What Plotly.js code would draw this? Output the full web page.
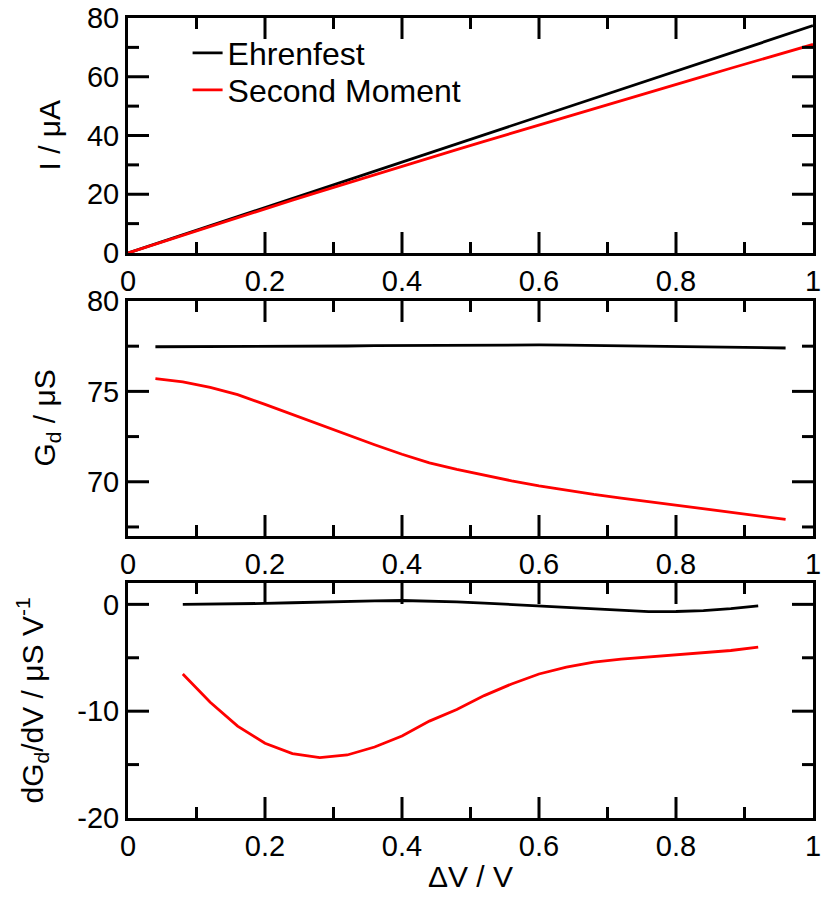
<!DOCTYPE html>
<html>
<head>
<meta charset="utf-8">
<script src="https://cdn.plot.ly/plotly-3.0.1.min.js"></script>
<style>
html,body{margin:0;padding:0;background:#fff;}
#chart{width:822px;height:897px;}
.modebar-container,.modebar{display:none !important;}
</style>
</head>
<body>
<div id="chart"></div>
<script>
// Panel 1: current vs bias (V = 0 ... 1, step 0.04)
var vCurrent = [0,0.04,0.08,0.12,0.16,0.2,0.24,0.28,0.32,0.36,0.4,0.44,0.48,0.52,0.56,0.6,0.64,0.68,0.72,0.76,0.8,0.84,0.88,0.92,0.96,1.0];
var iEhrenfest = [0,3.1,6.2,9.3,12.4,15.5,18.6,21.7,24.8,27.9,31.0,34.1,37.2,40.3,43.4,46.5,49.6,52.7,55.8,58.9,62.0,65.1,68.2,71.3,74.4,77.4];
var iSecond = [0,3.03,6.06,9.07,12.07,15.05,18.0,20.9,23.8,26.7,29.55,32.4,35.2,38.0,40.8,43.6,46.4,49.15,51.9,54.65,57.4,60.15,62.9,65.6,68.3,71.0];

// Panel 2: differential conductance (V = 0.04 ... 0.96)
var vCond = [0.04,0.08,0.12,0.16,0.2,0.24,0.28,0.32,0.36,0.4,0.44,0.48,0.52,0.56,0.6,0.64,0.68,0.72,0.76,0.8,0.84,0.88,0.92,0.96];
var gEhrenfest = [77.47,77.47,77.47,77.48,77.48,77.49,77.5,77.51,77.53,77.54,77.56,77.57,77.57,77.58,77.57,77.56,77.54,77.52,77.49,77.46,77.44,77.42,77.41,77.40];
var gSecond = [75.70,75.52,75.22,74.82,74.28,73.72,73.15,72.58,72.05,71.52,71.05,70.68,70.35,70.05,69.77,69.52,69.30,69.10,68.90,68.70,68.52,68.33,68.13,67.92];

// Panel 3: derivative of conductance (V = 0.08 ... 0.92)
var vDeriv = [0.08,0.12,0.16,0.2,0.24,0.28,0.32,0.36,0.4,0.44,0.48,0.52,0.56,0.6,0.64,0.68,0.72,0.76,0.8,0.84,0.88,0.92];
var dEhrenfest = [0.0,0.02,0.05,0.09,0.15,0.22,0.28,0.33,0.36,0.33,0.24,0.12,-0.02,-0.16,-0.32,-0.47,-0.6,-0.68,-0.67,-0.58,-0.4,-0.15];
var dSecond = [-6.52,-9.16,-11.4,-13.0,-13.97,-14.34,-14.1,-13.35,-12.33,-10.93,-9.84,-8.54,-7.45,-6.52,-5.87,-5.40,-5.12,-4.93,-4.75,-4.56,-4.32,-4.0];

var seriesNames = ['Ehrenfest','Second Moment'];

// Tick labels / tick positions
var xTickVals = [0,0.2,0.4,0.6,0.8,1];
var xTickText = ['0','0.2','0.4','0.6','0.8','1'];
var xMajorMarks = [0.2,0.4,0.6,0.8];
var xMinorMarks = [0.1,0.3,0.5,0.7,0.9];
var y1TickVals = [0,20,40,60,80];
var y1TickText = ['0','20','40','60','80'];
var y1MajorMarks = [20,40,60];
var y1MinorMarks = [10,30,50,70];
var y2TickVals = [70,75,80];
var y2TickText = ['70','75','80'];
var y2MajorMarks = [70,75];
var y2MinorMarks = [67.5,72.5,77.5];
var y3TickVals = [-20,-10,0];
var y3TickText = ['-20','-10','0'];
var y3MajorMarks = [-10,0];
var y3MinorMarks = [-15,-5];

var FONT = 'Liberation Sans, Arial, Helvetica, sans-serif';
var LW = 2.8;
var TF = {family: FONT, size: 29, color: '#000'};
var TITLEF = {family: FONT, size: 30, color: '#000'};

var traces = [
  {x: vCurrent, y: iEhrenfest, name: seriesNames[0], legend: 'legend', mode: 'lines', line: {color: '#000', width: LW}, xaxis: 'x', yaxis: 'y'},
  {x: vCurrent, y: iSecond, name: seriesNames[1], legend: 'legend2', mode: 'lines', line: {color: '#f00', width: LW}, xaxis: 'x', yaxis: 'y'},
  {x: vCond, y: gEhrenfest, name: seriesNames[0], mode: 'lines', showlegend: false, line: {color: '#000', width: LW}, xaxis: 'x2', yaxis: 'y2'},
  {x: vCond, y: gSecond, name: seriesNames[1], mode: 'lines', showlegend: false, line: {color: '#f00', width: LW}, xaxis: 'x2', yaxis: 'y2'},
  {x: vDeriv, y: dEhrenfest, name: seriesNames[0], mode: 'lines', showlegend: false, line: {color: '#000', width: LW}, xaxis: 'x3', yaxis: 'y3'},
  {x: vDeriv, y: dSecond, name: seriesNames[1], mode: 'lines', showlegend: false, line: {color: '#f00', width: LW}, xaxis: 'x3', yaxis: 'y3'}
];

function axisStyle(a) {
  a.ticks = ''; a.showline = true; a.linewidth = 3; a.linecolor = '#000'; a.mirror = true;
  a.showgrid = false; a.zeroline = false; a.tickfont = TF; a.tickmode = 'array';
  return a;
}

// Inward tick marks on all four sides, placed through the axis scales
var PANEL_W = 685, PANEL_H = 235, MAJ = 21, MIN = 11;
var shapes = [];
function addTicks(n, xMaj, xMin, yMaj, yMin) {
  var xr = n === 1 ? 'x' : 'x' + n, yr = n === 1 ? 'y' : 'y' + n;
  function xm(v, len) {
    var f = len / PANEL_H;
    shapes.push({type: 'line', xref: xr, yref: yr + ' domain', x0: v, x1: v, y0: 0, y1: f, line: {color: '#000', width: 3}, layer: 'above'});
    shapes.push({type: 'line', xref: xr, yref: yr + ' domain', x0: v, x1: v, y0: 1, y1: 1 - f, line: {color: '#000', width: 3}, layer: 'above'});
  }
  function ym(v, len) {
    var f = len / PANEL_W;
    shapes.push({type: 'line', xref: xr + ' domain', yref: yr, x0: 0, x1: f, y0: v, y1: v, line: {color: '#000', width: 3}, layer: 'above'});
    shapes.push({type: 'line', xref: xr + ' domain', yref: yr, x0: 1, x1: 1 - f, y0: v, y1: v, line: {color: '#000', width: 3}, layer: 'above'});
  }
  xMaj.forEach(function (v) { xm(v, MAJ); });
  xMin.forEach(function (v) { xm(v, MIN); });
  yMaj.forEach(function (v) { ym(v, MAJ); });
  yMin.forEach(function (v) { ym(v, MIN); });
}
addTicks(1, xMajorMarks, xMinorMarks, y1MajorMarks, y1MinorMarks);
addTicks(2, xMajorMarks, xMinorMarks, y2MajorMarks, y2MinorMarks);
addTicks(3, xMajorMarks, xMinorMarks, y3MajorMarks, y3MinorMarks);

function legendAt(y) {
  return {
    x: 0.087, y: y, xanchor: 'left', yanchor: 'middle',
    bgcolor: 'rgba(0,0,0,0)', borderwidth: 0,
    font: {family: FONT, size: 32, color: '#000'}
  };
}
function yTitle(text, xpx, dom) {
  return {
    text: text, xref: 'paper', yref: 'paper', x: (xpx - 128) / 685, y: (dom[0] + dom[1]) / 2,
    xanchor: 'center', yanchor: 'middle', textangle: -90, showarrow: false, font: TITLEF
  };
}
var dom1 = [0.70625, 1], dom2 = [0.3525, 0.64625], dom3 = [0, 0.29375];

var layout = {
  width: 822, height: 897,
  margin: {l: 128, r: 9, t: 18, b: 79},
  showlegend: true,
  legend: legendAt(1 - (53 - 18) / 800),
  legend2: legendAt(1 - (90 - 18) / 800),
  xaxis: axisStyle({anchor: 'y', range: [0, 1], tickvals: xTickVals, ticktext: xTickText}),
  yaxis: axisStyle({anchor: 'x', domain: dom1, range: [0, 80], tickvals: y1TickVals, ticktext: y1TickText}),
  xaxis2: axisStyle({anchor: 'y2', range: [0, 1], tickvals: xTickVals, ticktext: xTickText}),
  yaxis2: axisStyle({anchor: 'x2', domain: dom2, range: [67, 80], tickvals: y2TickVals, ticktext: y2TickText}),
  xaxis3: axisStyle({anchor: 'y3', range: [0, 1], tickvals: xTickVals, ticktext: xTickText,
                     title: {text: 'ΔV / V', font: TITLEF, standoff: 6}}),
  yaxis3: axisStyle({anchor: 'x3', domain: dom3, range: [-20, 2], tickvals: y3TickVals, ticktext: y3TickText}),
  shapes: shapes,
  annotations: [
    yTitle('I / μA', 49, dom1),
    yTitle('G<sub>d</sub> / μS', 46, dom2),
    yTitle('dG<sub>d</sub>/dV / μS V<sup>-1</sup>', 32, dom3)
  ]
};

Plotly.newPlot('chart', traces, layout, {displayModeBar: false});
</script>
</body>
</html>
